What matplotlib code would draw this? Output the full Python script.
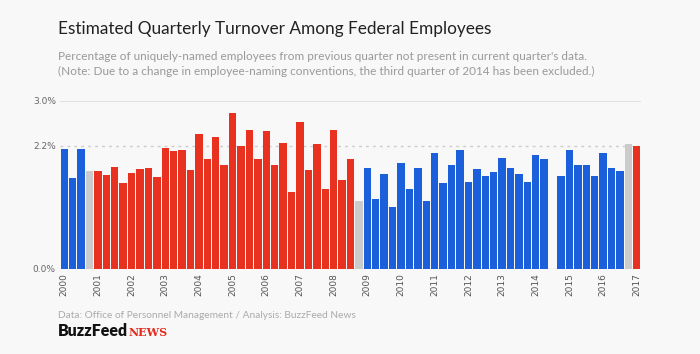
import matplotlib.pyplot as plt

# quarterly turnover, 2000 Q1 .. 2017 Q1 (None = 2014 Q3 excluded)
turnover = [
    2.14, 1.63, 2.14, 1.75,
    1.75, 1.68, 1.83, 1.53, 1.71, 1.78, 1.81, 1.65,
    2.16, 2.11, 2.13, 1.77, 2.41, 1.96, 2.35, 1.86,
    2.78, 2.20, 2.49, 1.96, 2.47, 1.85, 2.25, 1.37,
    2.63, 1.76, 2.24, 1.43, 2.48, 1.59, 1.96, 1.22,
    1.81, 1.25, 1.70, 1.11, 1.89, 1.43, 1.81, 1.22,
    2.07, 1.53, 1.86, 2.13, 1.55, 1.79, 1.66, 1.74,
    1.99, 1.81, 1.69, 1.55, 2.04, 1.96, None, 1.66,
    2.12, 1.86, 1.86, 1.66, 2.07, 1.81, 1.75, 2.23,
    2.20,
]
# party in office per quarter: D, R, or T (transition quarter)
party = (["D"] * 3 + ["T"] + ["R"] * 31 + ["T"] + ["D"] * 31 + ["T"] + ["R"])
years = list(range(2000, 2018))

colors = {"D": "#1c5fdb", "R": "#e9311f", "T": "#cbcbcb"}
bg = "#f8f8f8"

fig = plt.figure(figsize=(7, 3.54), dpi=100, facecolor=bg)
ax = fig.add_axes([60 / 700, 85 / 354, 581 / 700, 168 / 354], facecolor=bg)

for i, v in enumerate(turnover):
    if v is None:
        continue
    ax.bar(i, v, width=0.88, color=colors[party[i]], zorder=3)

ax.axhline(3.0, color="#dddddd", lw=1.2, zorder=1)
ax.axhline(2.2, color="#cccccc", lw=1, ls=(0, (2, 3)), zorder=1)
ax.axhline(0.0, color="#dddddd", lw=1, zorder=1)

ax.set_xlim(-0.5, len(turnover) - 0.5)
ax.set_ylim(0, 3.0)
ax.set_yticks([0, 2.2, 3.0])
ax.set_yticklabels(["0.0%", "2.2%", "3.0%"])
ax.set_xticks([4 * (y - 2000) for y in years])
ax.set_xticklabels([str(y) for y in years], rotation=90)
ax.tick_params(length=0, labelsize=6.5, colors="#555555", pad=3)
ax.tick_params(axis="y", labelcolor="#666666")
for s in ax.spines.values():
    s.set_visible(False)

fig.text(58 / 700, 1 - 29 / 354, "Estimated Quarterly Turnover Among Federal Employees",
         fontsize=12.4, color="#222222", family="Lato", va="center")
fig.text(58 / 700, 1 - 56 / 354,
         "Percentage of uniquely-named employees from previous quarter not present in current quarter's data.",
         fontsize=8.5, color="#999999", family="Lato", va="center")
fig.text(58 / 700, 1 - 71 / 354,
         "(Note: Due to a change in employee-naming conventions, the third quarter of 2014 has been excluded.)",
         fontsize=8.5, color="#999999", family="Lato", va="center")
fig.text(58 / 700, 1 - 315 / 354, "Data: Office of Personnel Management / Analysis: BuzzFeed News",
         fontsize=7.3, color="#aaaaaa", family="Lato", va="center")
fig.text(58 / 700, 1 - 331 / 354, "BuzzFeed", fontsize=11.5, fontweight="heavy",
         color="#111111", family="Lato", va="center")
fig.text(129 / 700, 1 - 332 / 354, "NEWS", fontsize=8, fontweight="bold",
         color="#e32b1c", family="DejaVu Serif", va="center")

fig.savefig("out.png", dpi=100, facecolor=bg)
